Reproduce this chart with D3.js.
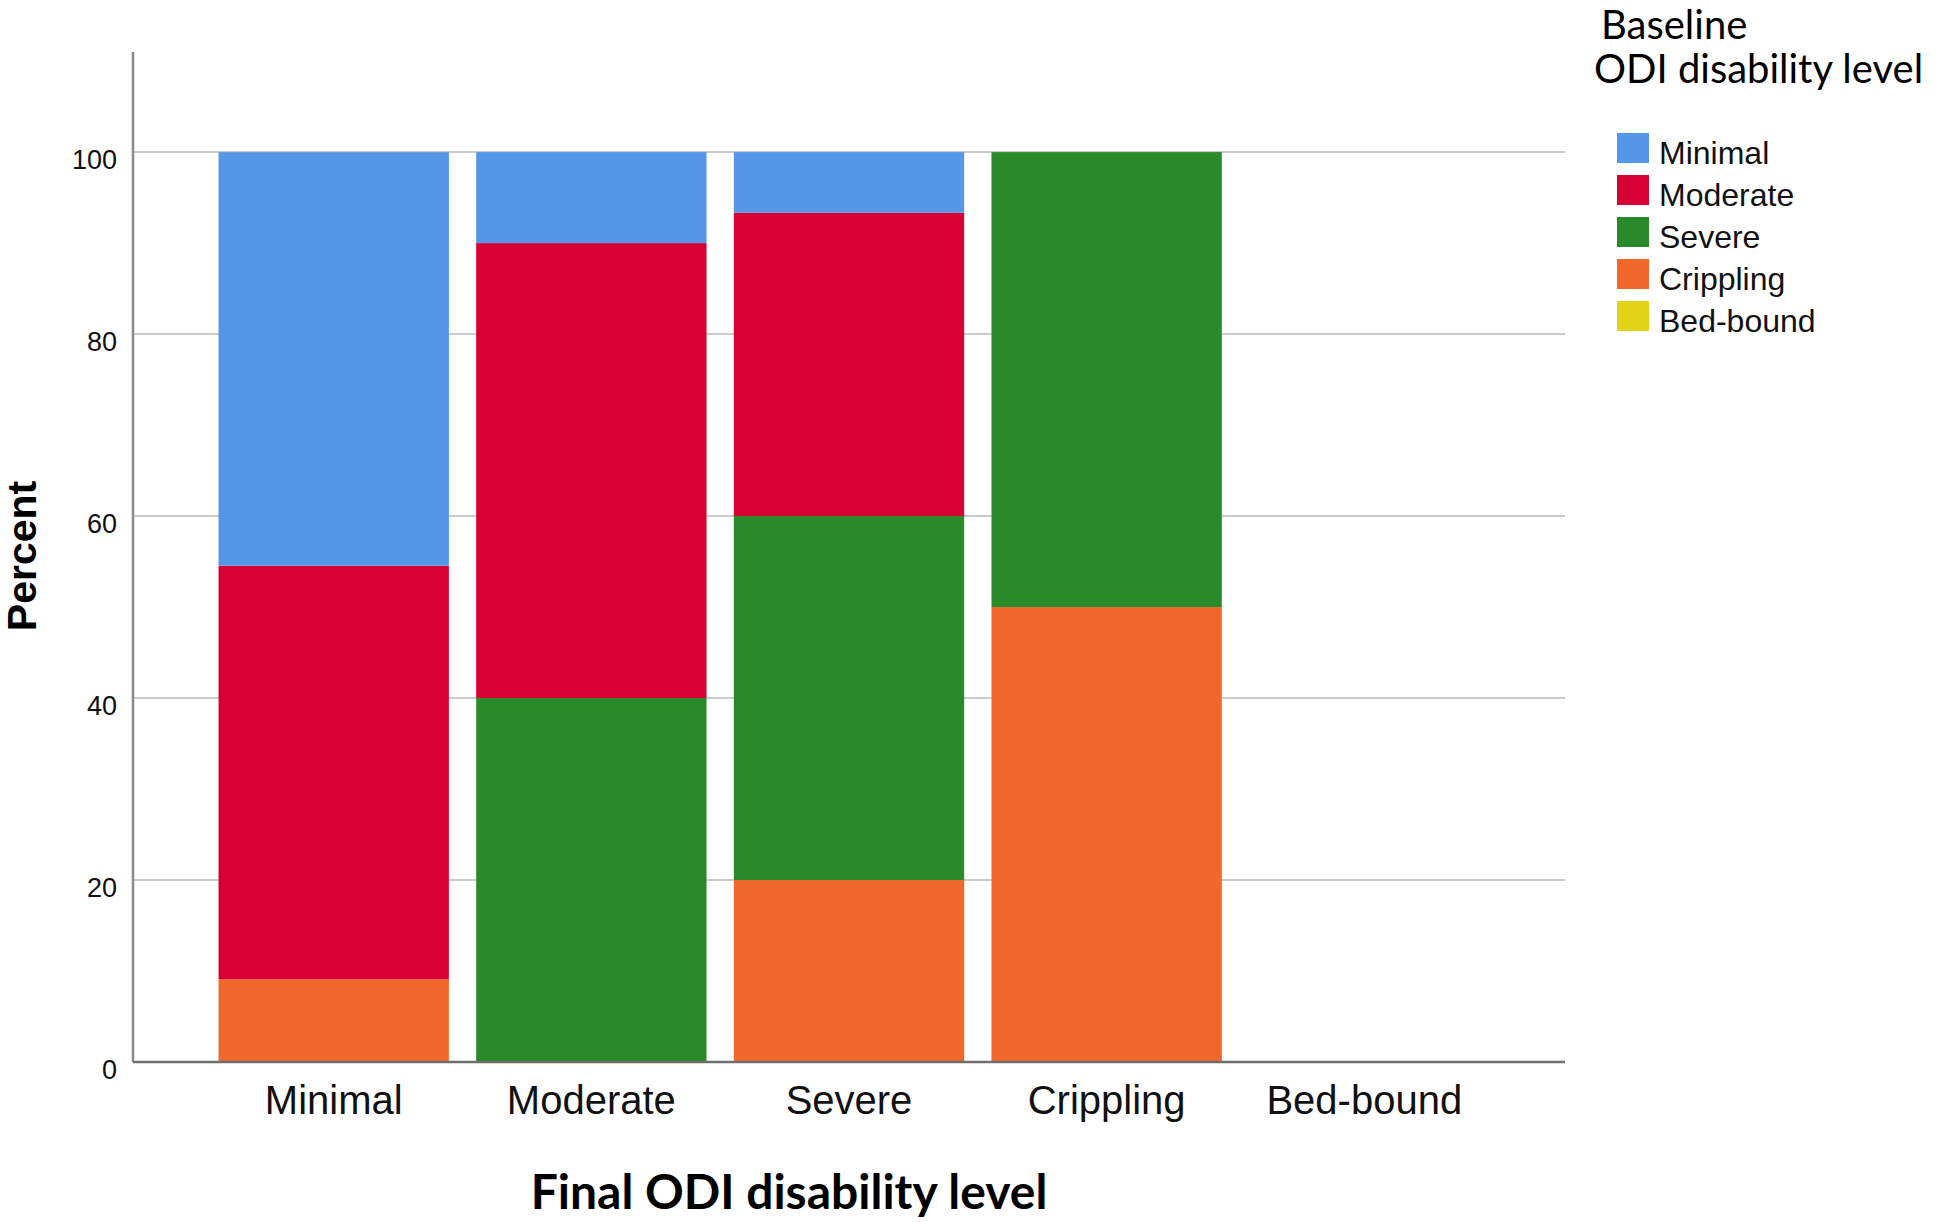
<!DOCTYPE html>
<html>
<head>
<meta charset="utf-8">
<script src="https://cdn.jsdelivr.net/npm/d3@7"></script>
<style>
  html, body { margin: 0; padding: 0; background: #ffffff; }
  svg { display: block; }
</style>
</head>
<body>
<svg id="chart" width="1944" height="1222"></svg>
<script>
// ---- data ----
const categories = ["Minimal", "Moderate", "Severe", "Crippling", "Bed-bound"];
const seriesKeys = ["Minimal", "Moderate", "Severe", "Crippling", "Bed-bound"];
const minimalValues   = [45.45, 10, 6.67, 0, 0];
const moderateValues  = [45.45, 50, 33.33, 0, 0];
const severeValues    = [0, 40, 40, 50, 0];
const cripplingValues = [9.09, 0, 20, 50, 0];
const bedboundValues  = [0, 0, 0, 0, 0];
const yTicks = [0, 20, 40, 60, 80, 100];
const seriesColors = ["#5596E6", "#D70034", "#298A2A", "#F1682C", "#E1D414"];
const xTitle = "Final ODI disability level";
const yTitle = "Percent";
const legendTitle = ["Baseline", "ODI disability level"];

const valuesByKey = {
  "Minimal": minimalValues,
  "Moderate": moderateValues,
  "Severe": severeValues,
  "Crippling": cripplingValues,
  "Bed-bound": bedboundValues
};
const table = categories.map((c, i) => {
  const row = { category: c };
  seriesKeys.forEach(k => row[k] = valuesByKey[k][i]);
  return row;
});

// ---- layout ----
const svg = d3.select("#chart");
const plotLeft = 133, plotRight = 1565, plotTop = 52, plotBottom = 1062;

const x = d3.scaleBand().domain(categories).range([plotLeft, plotRight])
  .paddingInner(0.106).paddingOuter(0.332);
const y = d3.scaleLinear().domain([0, 111]).range([plotBottom, plotTop]);
const color = d3.scaleOrdinal().domain(seriesKeys).range(seriesColors);

// gridlines
svg.append("g")
  .selectAll("line")
  .data(yTicks.filter(t => t > 0))
  .join("line")
  .attr("x1", plotLeft).attr("x2", plotRight)
  .attr("y1", d => y(d)).attr("y2", d => y(d))
  .attr("stroke", "#cbcbcb").attr("stroke-width", 2);

// stacked bars (bottom: Bed-bound, Crippling, Severe, Moderate, top: Minimal)
const stack = d3.stack().keys(seriesKeys.slice().reverse());
const layers = stack(table);
svg.append("g")
  .selectAll("g")
  .data(layers)
  .join("g")
  .attr("fill", d => color(d.key))
  .selectAll("rect")
  .data(d => d)
  .join("rect")
  .attr("x", d => x(d.data.category))
  .attr("width", x.bandwidth())
  .attr("y", d => y(d[1]))
  .attr("height", d => Math.max(0, y(d[0]) - y(d[1])));

// y axis
const yAxis = d3.axisLeft(y).tickValues(yTicks).tickSize(0).tickPadding(16);
const gy = svg.append("g").attr("transform", `translate(${plotLeft},0)`).call(yAxis);
gy.select(".domain").remove();
gy.selectAll("text")
  .attr("font-family", "'Liberation Sans', Arial, sans-serif")
  .attr("font-size", 27)
  .attr("fill", "#111")
  .attr("dy", "0.6em");
svg.append("line")
  .attr("x1", plotLeft).attr("x2", plotLeft).attr("y1", plotTop).attr("y2", plotBottom)
  .attr("stroke", "#8a8a8a").attr("stroke-width", 2.5);

// x axis
const xAxis = d3.axisBottom(x).tickSize(0).tickPadding(24);
const gx = svg.append("g").attr("transform", `translate(0,${plotBottom})`).call(xAxis);
gx.select(".domain").remove();
gx.selectAll("text")
  .attr("font-family", "'Liberation Sans', Arial, sans-serif")
  .attr("font-size", 40)
  .attr("fill", "#111");
svg.append("line")
  .attr("x1", plotLeft).attr("x2", plotRight).attr("y1", plotBottom).attr("y2", plotBottom)
  .attr("stroke", "#6e6e6e").attr("stroke-width", 2.5);

// axis titles
svg.append("text")
  .attr("x", 789).attr("y", 1209)
  .attr("text-anchor", "middle")
  .attr("font-family", "Lato, 'Open Sans', sans-serif")
  .attr("font-weight", 700)
  .attr("font-size", 48)
  .attr("fill", "#000")
  .text(xTitle);

svg.append("text")
  .attr("transform", "translate(36,556) rotate(-90)")
  .attr("text-anchor", "middle")
  .attr("font-family", "'Liberation Sans', Arial, sans-serif")
  .attr("font-weight", 700)
  .attr("font-size", 41)
  .attr("fill", "#000")
  .text(yTitle);

// legend
svg.append("text")
  .attr("x", 1601).attr("y", 39)
  .attr("font-family", "Lato, 'Open Sans', sans-serif")
  .attr("font-size", 40)
  .attr("fill", "#000")
  .text(legendTitle[0]);
svg.append("text")
  .attr("x", 1594).attr("y", 83)
  .attr("font-family", "Lato, 'Open Sans', sans-serif")
  .attr("font-size", 40)
  .attr("fill", "#000")
  .text(legendTitle[1]);

const legend = svg.append("g")
  .selectAll("g")
  .data(seriesKeys)
  .join("g")
  .attr("transform", (d, i) => `translate(1617,${133 + i * 42})`);
legend.append("rect")
  .attr("width", 32).attr("height", 30)
  .attr("fill", d => color(d));
legend.append("text")
  .attr("x", 42).attr("y", 31)
  .attr("font-family", "'Liberation Sans', Arial, sans-serif")
  .attr("font-size", 32)
  .attr("fill", "#111")
  .text(d => d);
</script>
</body>
</html>
